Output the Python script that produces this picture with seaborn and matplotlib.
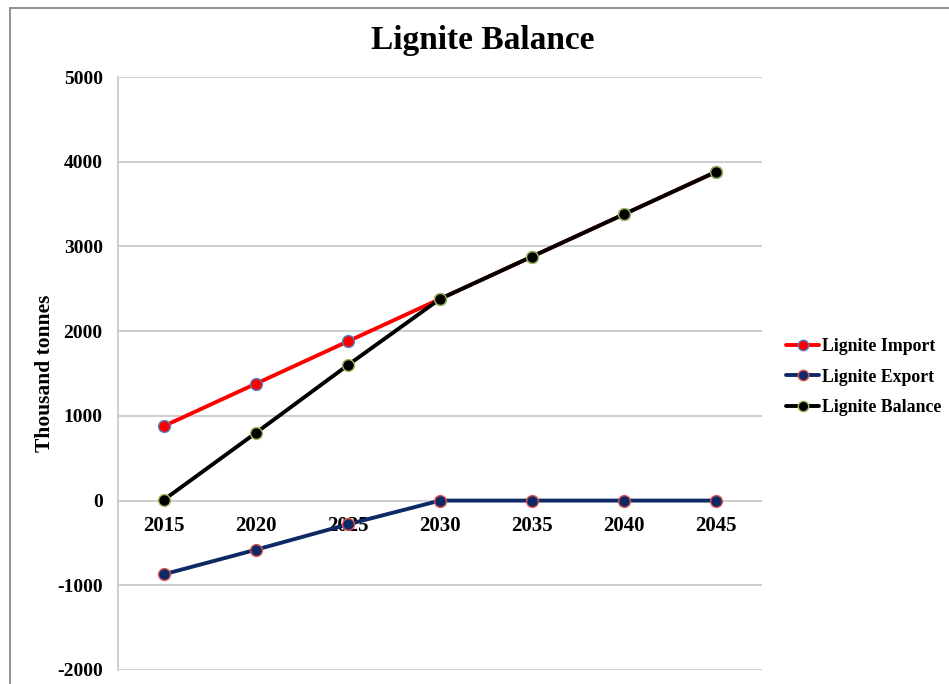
import matplotlib
matplotlib.use("Agg")
import matplotlib.pyplot as plt
import seaborn as sns
import pandas as pd
from matplotlib.lines import Line2D

years = [2015, 2020, 2025, 2030, 2035, 2040, 2045]
lignite_import = [880, 1380, 1880, 2380, 2880, 3380, 3880]
lignite_export = [-870, -580, -280, 0, 0, 0, 0]
lignite_balance = [10, 800, 1600, 2380, 2880, 3380, 3880]
series_names = ["Lignite Import", "Lignite Export", "Lignite Balance"]
y_ticks = [-2000, -1000, 0, 1000, 2000, 3000, 4000, 5000]

sns.set_theme(style="white")
plt.rcParams['font.family'] = ['Liberation Serif', 'DejaVu Serif']
plt.rcParams['font.weight'] = 'bold'
plt.rcParams['text.color'] = 'black'
plt.rcParams['axes.labelcolor'] = 'black'
plt.rcParams['xtick.color'] = 'black'
plt.rcParams['ytick.color'] = 'black'

df = pd.DataFrame({"year": years,
                   series_names[0]: lignite_import,
                   series_names[1]: lignite_export,
                   series_names[2]: lignite_balance})

fig = plt.figure(figsize=(9.49, 6.84), dpi=100)
ax = fig.add_axes([118/949, 1-670/684, (762-118)/949, (670-77)/684])

styles = {
    series_names[0]: dict(color="#FF0000", mec="#4F81BD"),
    series_names[1]: dict(color="#0E2A66", mec="#D9534F"),
    series_names[2]: dict(color="#000000", mec="#9BBB59"),
}
for name in series_names:
    st = styles[name]
    sns.lineplot(data=df, x="year", y=name, ax=ax, color=st["color"],
                 marker="o", markersize=8.5, markeredgecolor=st["mec"],
                 markeredgewidth=1.0, linewidth=2.8, label=name, zorder=3,
                 legend=False)

ax.spines['bottom'].set_position(('data', 0))
ax.spines['bottom'].set_color('none')
ax.spines['top'].set_visible(False)
ax.spines['right'].set_visible(False)
ax.spines['left'].set_color("#CACACA")
ax.spines['left'].set_linewidth(1.3)

ax.set_xlim(2012.5, 2047.5)
ax.set_ylim(-2000, 5000)
ax.set_yticks(y_ticks)
ax.set_yticklabels([str(v) for v in y_ticks])
ax.yaxis.grid(True, color="#CACACA", linewidth=1.3)
ax.xaxis.grid(False)
ax.set_xticks(years)
ax.set_xticklabels([str(y) for y in years])
ax.tick_params(axis='x', length=0, pad=11, labelsize=15)
ax.tick_params(axis='y', length=0, pad=11, labelsize=14)
for lab in ax.get_xticklabels() + ax.get_yticklabels():
    lab.set_fontweight('bold')
ax.set_xlabel("")
ax.set_ylabel("Thousand tonnes", fontsize=15.5, fontweight='bold')
ax.yaxis.set_label_coords((55-118)/644, 0.5)

fig.text(483/949, 1-40/684, "Lignite Balance", ha='center', va='center',
         fontsize=24, fontweight='bold')

handles = [Line2D([], [], color=styles[n]["color"], marker='o', markersize=7.5,
                  markeredgecolor=styles[n]["mec"], linewidth=2.8) for n in series_names]
fig.legend(handles, series_names, loc='center left',
           bbox_to_anchor=(774/949, 1-377/684), frameon=False,
           prop={'family': 'Liberation Serif', 'weight': 'bold', 'size': 12.8},
           handlelength=1.85, handletextpad=0.15, labelspacing=0.75,
           borderpad=0.2)

fig.add_artist(Line2D([10/949, 10/949], [0, 1-8/684], transform=fig.transFigure,
                      color="#8A8A8A", linewidth=1.3))
fig.add_artist(Line2D([10/949, 1], [1-8/684, 1-8/684], transform=fig.transFigure,
                      color="#8A8A8A", linewidth=1.3))

fig.savefig("out.png", dpi=100)
